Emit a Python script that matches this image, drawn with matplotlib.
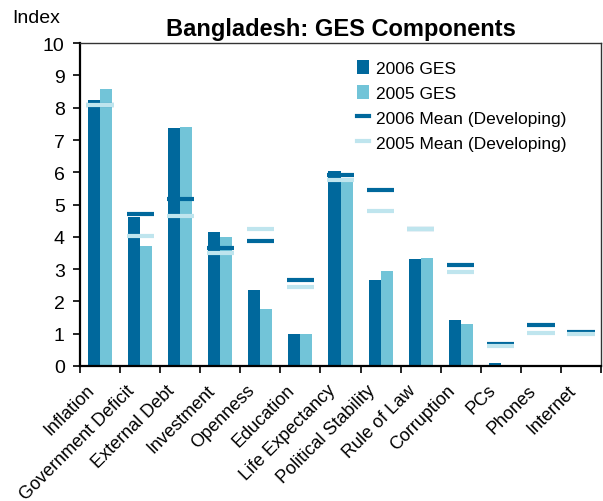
import numpy as np
import matplotlib
matplotlib.use("Agg")
import matplotlib.pyplot as plt
import matplotlib.transforms as mtransforms
from matplotlib.lines import Line2D
from matplotlib.patches import Patch

plt.rcParams['font.family'] = ['Liberation Sans', 'DejaVu Sans']

categories = ['Inflation', 'Government Deficit', 'External Debt', 'Investment',
              'Openness', 'Education', 'Life Expectancy', 'Political Stability',
              'Rule of Law', 'Corruption', 'PCs', 'Phones', 'Internet']
ges_2006 = [8.23, 4.61, 7.37, 4.15, 2.35, 0.99, 6.04, 2.66, 3.31, 1.42, 0.08, 0.03, 0.01]
ges_2005 = [8.58, 3.72, 7.40, 3.99, 1.76, 0.99, 5.80, 2.94, 3.34, 1.30, 0.01, 0.02, 0.01]
mean_2006 = [8.08, 4.71, 5.18, 3.65, 3.86, 2.65, 5.92, 5.44, 4.25, 3.13, 0.67, 1.28, 1.05]
mean_2005 = [8.07, 4.02, 4.65, 3.49, 4.23, 2.45, 5.76, 4.81, 4.23, 2.92, 0.61, 1.02, 0.98]

dark = '#00689C'
light = '#72C4D8'
pale = '#BFE5EE'

fig = plt.figure(figsize=(6.03, 5.02), dpi=100)
ax = fig.add_axes([0.1327, 0.269, 0.864, 0.643])

x = np.arange(len(categories))
w = 0.3
ax.bar(x - w / 2, ges_2006, width=w, color=dark, zorder=2)
ax.bar(x + w / 2, ges_2005, width=w, color=light, zorder=2)

# mean markers as short horizontal strokes over each category
hw = 0.34
ax.hlines(mean_2006, x - hw, x + hw, colors=dark, linewidth=3, zorder=3)
ax.hlines(mean_2005, x - hw, x + hw, colors=pale, linewidth=3, zorder=4)

ax.set_xlim(-0.5, len(categories) - 0.5)
ax.set_ylim(0, 10)
ax.set_yticks(range(0, 11))
ax.tick_params(axis='y', labelsize=14, length=5, width=1.2, pad=6)

# tick marks between categories, labels at category centres
ax.set_xticks(np.arange(-0.5, len(categories), 1.0))
ax.set_xticklabels([])
ax.set_xticks(x, minor=True)
ax.set_xticklabels(categories, minor=True, rotation=45, ha='right', va='top',
                   rotation_mode='anchor', fontsize=13)
ax.tick_params(axis='x', which='major', length=5, width=1.2)
ax.tick_params(axis='x', which='minor', length=0, pad=11)
shift = mtransforms.ScaledTranslation(-10 / 72, 0, fig.dpi_scale_trans)
for lbl in ax.get_xticklabels(minor=True):
    lbl.set_transform(lbl.get_transform() + shift)

for side in ['left', 'bottom']:
    ax.spines[side].set_linewidth(1.6)
for side in ['top', 'right']:
    ax.spines[side].set_linewidth(1.0)
    ax.spines[side].set_color('#333333')

fig.text(0.02, 0.955, 'Index', fontsize=14)
ax.set_title('Bangladesh: GES Components', fontsize=17, fontweight='bold', pad=6)

handles = [
    Patch(facecolor=dark, label='2006 GES'),
    Patch(facecolor=light, label='2005 GES'),
    Line2D([], [], color=dark, linewidth=3, label='2006 Mean (Developing)'),
    Line2D([], [], color=pale, linewidth=3, label='2005 Mean (Developing)'),
]
ax.legend(handles=handles, loc='upper left', bbox_to_anchor=(0.566, 0.91),
          bbox_transform=fig.transFigure, frameon=False, fontsize=12.5,
          handlelength=0.7, handleheight=0.9, handletextpad=0.4, labelspacing=0.5)

fig.savefig('out.png', dpi=100)
